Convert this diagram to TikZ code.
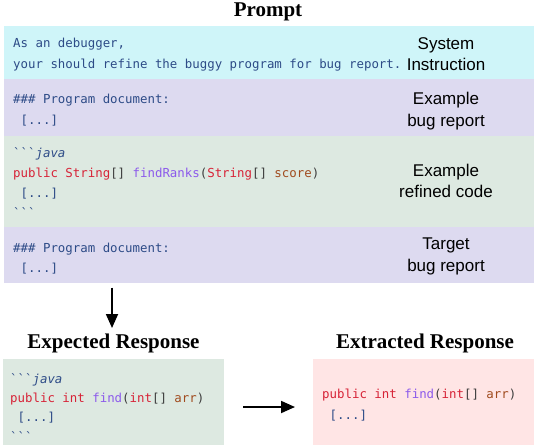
\documentclass[tikz,border=0pt]{standalone}
\usepackage{fontspec}
\setmainfont{Liberation Serif}
\newfontfamily\codefont[Ligatures=TeXOff]{DejaVu Sans Mono}
\newfontfamily\labelfont{Liberation Sans}
\usetikzlibrary{arrows.meta}
\definecolor{cyanbg}{RGB}{207,245,249}
\definecolor{purplebg}{RGB}{221,218,240}
\definecolor{greenbg}{RGB}{221,233,225}
\definecolor{pinkbg}{RGB}{255,229,229}
\definecolor{codeblue}{RGB}{45,75,135}
\definecolor{codered}{RGB}{215,35,55}
\definecolor{codepurple}{RGB}{140,90,235}
\definecolor{codebrown}{RGB}{160,75,30}
\definecolor{codegrey}{RGB}{60,60,60}
\newcommand\kwr[1]{\textcolor{codered}{#1}}
\newcommand\fnp[1]{\textcolor{codepurple}{#1}}
\newcommand\vrb[1]{\textcolor{codebrown}{#1}}
\newcommand\pnc[1]{\textcolor{codegrey}{#1}}
\newcommand\bts{\symbol{96}\symbol{96}\symbol{96}}
\begin{document}
\begin{tikzpicture}[x=1pt,y=-1pt,
  box/.style={anchor=north west, inner sep=0pt, outer sep=0pt, draw=none},
  code/.style={anchor=base west, inner sep=0pt, font=\codefont\fontsize{12.4}{14}\selectfont, text=codeblue},
  lab/.style={anchor=base, inner sep=0pt, font=\labelfont\fontsize{17}{20}\selectfont, text=black},
  ttl/.style={anchor=base, inner sep=0pt, font=\bfseries\fontsize{21}{24}\selectfont},
  arr/.style={-{Triangle[length=14pt,width=12pt]}, line width=1.8pt}]
\useasboundingbox (0,0) rectangle (534,445);
% title
\node[ttl] (prompt) at (268,16.5) {Prompt};
% boxes
\node[box, fill=cyanbg, minimum width=530pt, minimum height=53.5pt] (sys) at (4,25.5) {};
\node[box, fill=purplebg, minimum width=530pt, minimum height=57pt] (exb) at (4,79) {};
\node[box, fill=greenbg, minimum width=530pt, minimum height=91pt] (exc) at (4,136) {};
\node[box, fill=purplebg, minimum width=530pt, minimum height=56pt] (tgt) at (4,227) {};
% system
\node[code] (s1) at (13,47.5) {As an debugger,};
\node[code] (s2) at (13,68) {your should refine the buggy program for bug report.};
\node[lab] (l1a) at (446,49.5) {System};
\node[lab] (l1b) at (446,70.5) {Instruction};
% example bug report
\node[code] (b1) at (13,103.5) {\#\#\# Program document:};
\node[code] (b2) at (13,124) {\hphantom{x}[...]};
\node[lab] (l2a) at (446,104) {Example};
\node[lab] (l2b) at (446,126) {bug report};
% example refined code
\node[code] (c1) at (13,157) {\bts\textit{java}};
\node[code] (c2) at (13,177) {\kwr{public} \kwr{String}\pnc{[]} \fnp{findRanks}\pnc{(}\kwr{String}\pnc{[]} \vrb{score}\pnc{)}};
\node[code] (c3) at (13,197) {\hphantom{x}[...]};
\node[code] (c4) at (13,217) {\bts};
\node[lab] (l3a) at (446,176) {Example};
\node[lab] (l3b) at (446,197) {refined code};
% target bug report
\node[code] (t1) at (13,252.5) {\#\#\# Program document:};
\node[code] (t2) at (13,272) {\hphantom{x}[...]};
\node[lab] (l4a) at (446,249) {Target};
\node[lab] (l4b) at (446,271) {bug report};
% bottom titles
\node[ttl] (exp) at (113.5,348) {Expected Response};
\node[ttl] (ext) at (425,348) {Extracted Response};
% bottom boxes
\node[box, fill=greenbg, minimum width=221pt, minimum height=86pt] (eg) at (3,359) {};
\node[box, fill=pinkbg, minimum width=221pt, minimum height=86pt] (pk) at (313,359) {};
\node[code] (e1) at (10,383) {\bts\textit{java}};
\node[code] (e2) at (10,402) {\kwr{public} \kwr{int} \fnp{find}\pnc{(}\kwr{int}\pnc{[]} \vrb{arr}\pnc{)}};
\node[code] (e3) at (10,421.5) {\hphantom{x}[...]};
\node[code] (e4) at (10,441) {\bts};
\node[code] (p1) at (322,398.5) {\kwr{public} \kwr{int} \fnp{find}\pnc{(}\kwr{int}\pnc{[]} \vrb{arr}\pnc{)}};
\node[code] (p2) at (322,419) {\hphantom{x}[...]};
% arrows
\coordinate (d1) at (112,287.5);
\coordinate (d2) at (112,328);
\draw[arr] (d1) -- (d2);
\draw[arr, shorten <=19pt, shorten >=18pt] ([yshift=-5pt]eg.east) -- ([yshift=-5pt]pk.west);
\end{tikzpicture}
\end{document}
